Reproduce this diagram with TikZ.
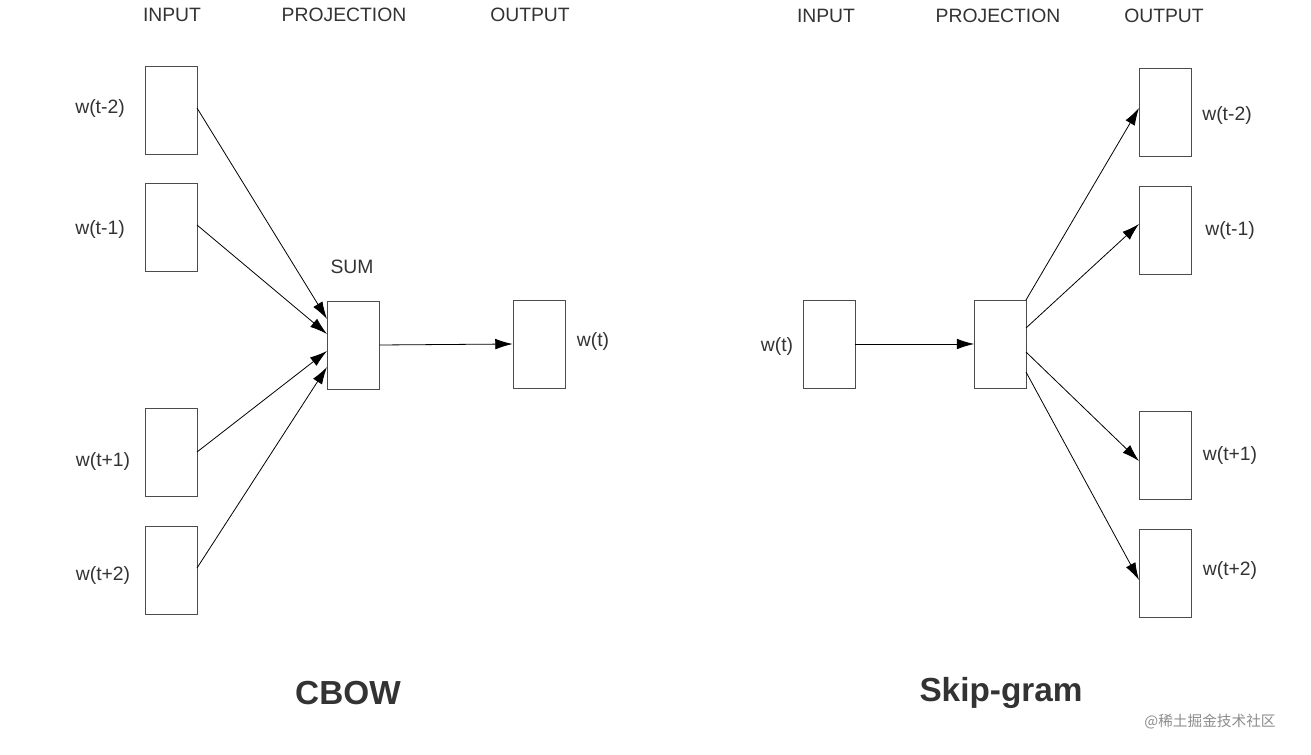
\documentclass[tikz,border=0pt]{standalone}
\usepackage{fontspec}
\setmainfont{Liberation Sans}
\newfontfamily\cjk{Noto Sans CJK SC}
\usetikzlibrary{arrows.meta}
\begin{document}
\begin{tikzpicture}[x=0.75pt,y=-0.75pt,
  box/.style={draw=black!70,line width=0.6pt,minimum width=39pt,minimum height=66pt,inner sep=0pt},
  lbl/.style={font=\fontsize{14.5}{16}\selectfont,text=black!80},
  ttl/.style={font=\fontsize{25}{28}\selectfont\bfseries,text=black!80},
  arr/.style={line width=0.6pt,-{Latex[length=13pt,width=8pt]}}]
\useasboundingbox (0,0) rectangle (1311,755);
% CBOW
\node[lbl] (h1) at (172,15) {INPUT};
\node[lbl] (h2) at (344,15) {PROJECTION};
\node[lbl] (h3) at (530,15) {OUTPUT};
\node[box] (i1) at (171.5,110) {};
\node[box] (i2) at (171.5,227) {};
\node[box] (i3) at (171.5,452) {};
\node[box] (i4) at (171.5,570) {};
\node[lbl] at (100,109) {w(t-2)};
\node[lbl] at (100,230) {w(t-1)};
\node[lbl] at (103,461) {w(t+1)};
\node[lbl] at (103,575) {w(t+2)};
\node[box] (sum) at (353,345) {};
\node[lbl] at (352,267) {SUM};
\node[box] (o) at (539,344) {};
\node[lbl] at (593,341) {w(t)};
\draw[arr] (197,108) -- (327,319);
\draw[arr] (197,225) -- (327,334);
\draw[arr] (197,452) -- (327,351);
\draw[arr] (197,568) -- (327,367);
\draw[arr] (sum.east) -- (o.west);
\node[ttl] at (348,693) {CBOW};
% Skip-gram
\node[lbl] (g1) at (826,16) {INPUT};
\node[lbl] (g2) at (998,16) {PROJECTION};
\node[lbl] (g3) at (1164,16) {OUTPUT};
\node[box] (si) at (829,344) {};
\node[lbl] at (777,346) {w(t)};
\node[box] (sp) at (1000.5,344) {};
\node[box] (s1) at (1165,112) {};
\node[box] (s2) at (1165,230) {};
\node[box] (s3) at (1165,455) {};
\node[box] (s4) at (1165,573) {};
\node[lbl] at (1227,116) {w(t-2)};
\node[lbl] at (1230,231) {w(t-1)};
\node[lbl] at (1230,455) {w(t+1)};
\node[lbl] at (1230,570) {w(t+2)};
\draw[arr] (si.east) -- (sp.west);
\draw[arr] (1026,300) -- (1139,108);
\draw[arr] (1026,328) -- (1139,224);
\draw[arr] (1026,352) -- (1139,461);
\draw[arr] (1026,372) -- (1139,580);
\node[ttl] at (1001,693) {Skip-gram};
\node[font=\cjk\fontsize{11}{12}\selectfont,text=black!45] at (1210,722) {@稀土掘金技术社区};
\end{tikzpicture}
\end{document}
